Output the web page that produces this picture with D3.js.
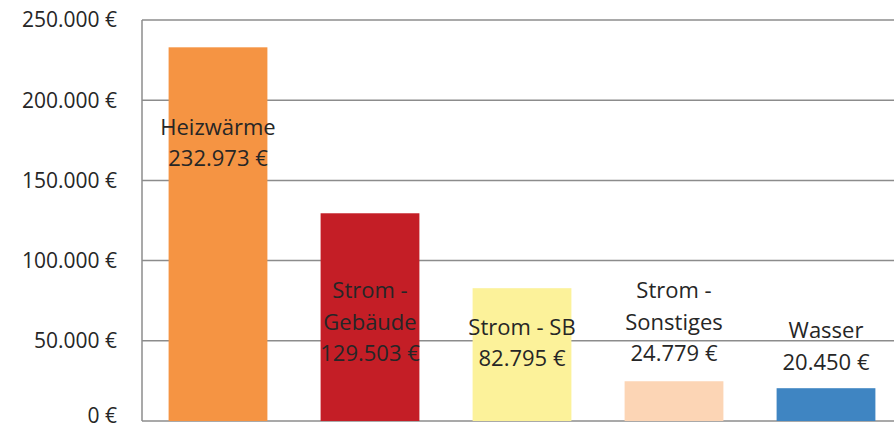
<!DOCTYPE html>
<html>
<head>
<meta charset="utf-8">
<script src="https://cdn.jsdelivr.net/npm/d3@7"></script>
<style>
  html, body { margin: 0; padding: 0; background: #fff; }
  #chart { width: 894px; height: 430px; }
  text { font-family: "Open Sans", sans-serif; fill: #262626; }
</style>
</head>
<body>
<div id="chart"></div>
<script>
// category names (label lines) and costs in euro
const categories = ["Heizwärme", "Strom - Gebäude", "Strom - SB", "Strom - Sonstiges", "Wasser"];
const labelLines = [["Heizwärme"], ["Strom -", "Gebäude"], ["Strom - SB"], ["Strom -", "Sonstiges"], ["Wasser"]];
const costs = [232973, 129503, 82795, 24779, 20450];
// where Excel put the middle of each data label, in euro on the y scale
const labelCenters = [173300, 61700, 48600, 61700, 46700];
const barColors = ["#f59443", "#c41e26", "#fcf29a", "#fcd5b5", "#3f85c2"];
const yTicks = [0, 50000, 100000, 150000, 200000, 250000];

(function() {
  const width = 894, height = 430;
  const margin = { top: 20, right: 0, bottom: 9, left: 142 };

  const fmt = v => d3.format(",")(v).replace(/,/g, ".") + " €";

  const svg = d3.select("#chart").append("svg")
    .attr("width", width)
    .attr("height", height);

  const x = d3.scaleBand()
    .domain(categories)
    .range([margin.left, margin.left + 760])
    .paddingInner(0.35)
    .paddingOuter(0.175);

  const y = d3.scaleLinear()
    .domain([0, 250000])
    .range([height - margin.bottom, margin.top]);

  // grid lines
  svg.append("g").selectAll("line")
    .data(yTicks)
    .enter().append("line")
    .attr("x1", margin.left)
    .attr("x2", width)
    .attr("y1", d => y(d))
    .attr("y2", d => y(d))
    .attr("stroke", "#8c8c8c")
    .attr("stroke-width", 1.5);

  // left axis line
  svg.append("line")
    .attr("x1", margin.left).attr("x2", margin.left)
    .attr("y1", y(250000)).attr("y2", y(0))
    .attr("stroke", "#8c8c8c")
    .attr("stroke-width", 1.5);

  // tick labels
  svg.append("g").selectAll("text")
    .data(yTicks)
    .enter().append("text")
    .attr("x", 117)
    .attr("y", d => y(d))
    .attr("dy", d => d === 0 ? "0.1em" : "0.35em")
    .attr("text-anchor", "end")
    .style("font-size", "21px")
    .text(d => fmt(d));

  // bars
  svg.append("g").selectAll("rect")
    .data(costs)
    .enter().append("rect")
    .attr("x", (d, i) => x(categories[i]))
    .attr("width", x.bandwidth())
    .attr("y", d => y(d))
    .attr("height", d => y(0) - y(d))
    .attr("fill", (d, i) => barColors[i]);

  // data labels: category name + value, centred around labelCenters
  const lineH = 31.5;
  costs.forEach((v, i) => {
    const lines = labelLines[i].concat([fmt(v)]);
    const cx = x(categories[i]) + x.bandwidth() / 2;
    const top = y(labelCenters[i]) - (lines.length - 1) * lineH / 2;
    const t = svg.append("text")
      .attr("text-anchor", "middle")
      .style("font-size", "22px");
    lines.forEach((s, k) => {
      t.append("tspan")
        .attr("x", cx)
        .attr("y", top + k * lineH)
        .attr("dy", "0.35em")
        .text(s);
    });
  });
})();
</script>
</body>
</html>
